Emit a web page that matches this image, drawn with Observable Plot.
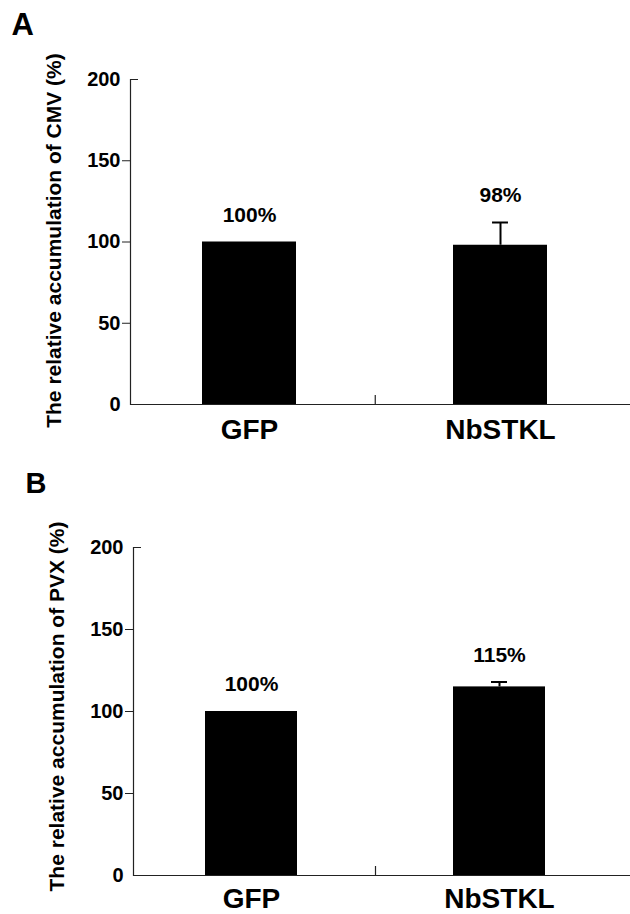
<!DOCTYPE html>
<html>
<head>
<meta charset="utf-8">
<script src="https://cdn.jsdelivr.net/npm/d3@7"></script>
<script src="https://cdn.jsdelivr.net/npm/@observablehq/plot@0.6"></script>
<style>
  html, body { margin: 0; padding: 0; background: #fff; }
  #chart svg { display: block; }
</style>
</head>
<body>
<div id="chart"></div>
<script>
// ---- data ----
const categories = ["GFP", "NbSTKL"];
const cmvValues = [100, 98];
const cmvErrors = [0, 14];
const cmvLabels = ["100%", "98%"];
const pvxValues = [100, 115];
const pvxErrors = [0, 3];
const pvxLabels = ["100%", "115%"];
const yTicks = [0, 50, 100, 150, 200];
const cmvTitle = "The relative accumulation of CMV (%)";
const pvxTitle = "The relative accumulation of PVX (%)";

const FONT = "'Liberation Sans', Arial, Helvetica, sans-serif";

function panel(cfg) {
  const rows = categories.map((c, i) => ({cat: c, value: cfg.values[i], err: cfg.errors[i], label: cfg.labels[i]}));
  const errRows = rows.filter(d => d.err > 0);
  const step = (cfg.xRange[1] - cfg.xRange[0]) / 2;
  const bw = step * (1 - cfg.padInner);
  const capInset = (bw - 16) / 2;
  return Plot.plot({
    width: 630,
    height: cfg.height,
    marginTop: cfg.marginTop,
    marginBottom: cfg.marginBottom,
    marginLeft: cfg.marginLeft,
    marginRight: 0,
    style: {fontFamily: FONT, fontWeight: "bold", color: "black", background: "white", overflow: "visible"},
    x: {domain: categories, range: cfg.xRange, paddingInner: cfg.padInner, paddingOuter: cfg.padInner / 2},
    y: {domain: [0, 200]},
    marks: [
      Plot.barY(rows, {x: "cat", y: "value", fill: "black"}),
      Plot.ruleX(errRows, {x: "cat", y1: "value", y2: d => d.value + d.err, stroke: "black", strokeWidth: 2}),
      Plot.tickY(errRows, {x: "cat", y: d => d.value + d.err, stroke: "black", strokeWidth: 2, insetLeft: capInset, insetRight: capInset}),
      Plot.text(rows, {x: "cat", y: d => d.value + d.err, text: "label", dy: -27, fontSize: 21, fill: "black"}),
      Plot.frame({anchor: "left", stroke: "#222", strokeWidth: 1.2}),
      Plot.ruleY([0], {stroke: "#222", strokeWidth: 1.2}),
      Plot.ruleX([categories[0]], {x: d => d, y1: 0, dx: step / 2, insetTop: -9, stroke: "#222", strokeWidth: 1.2}),
      Plot.axisY(yTicks, {tickSize: 0, tickPadding: 10, fontSize: 20, label: null}),
      Plot.axisY(yTicks.filter(t => t > 0 && t < 200), {tickSize: 8, tickFormat: () => "", label: null, stroke: "#222"}),
      Plot.axisY(yTicks.filter(t => t === 200), {tickSize: 8, dx: 8, tickFormat: () => "", label: null, stroke: "#222"}),
      Plot.axisX({tickSize: 0, tickPadding: cfg.xPad, fontSize: 28, label: null}),
      Plot.text([cfg.title], {text: d => d, frameAnchor: "left", textAnchor: "middle", lineAnchor: "middle", rotate: -90, dx: -76, dy: cfg.titleDy, fontSize: 21, fill: "black"}),
      Plot.text([cfg.letter], {text: d => d, frameAnchor: "top-left", textAnchor: "start", lineAnchor: "top", dx: cfg.letterDx, dy: cfg.letterDy, fontSize: cfg.letterSize, fill: "black"})
    ]
  });
}

const chart = document.getElementById("chart");
chart.append(panel({
  values: cmvValues, errors: cmvErrors, labels: cmvLabels, title: cmvTitle, letter: "A",
  height: 460, marginTop: 79, marginBottom: 56, marginLeft: 130,
  xRange: [123.25, 626.25], padInner: 0.626, xPad: 15,
  titleDy: -1.5, letterDx: -119, letterDy: -67, letterSize: 31
}));
chart.append(panel({
  values: pvxValues, errors: pvxErrors, labels: pvxLabels, title: pvxTitle, letter: "B",
  height: 454, marginTop: 87, marginBottom: 39, marginLeft: 133,
  xRange: [127, 623], padInner: 0.629, xPad: 13,
  titleDy: -5, letterDx: -108, letterDy: -75, letterSize: 29
}));
</script>
</body>
</html>
